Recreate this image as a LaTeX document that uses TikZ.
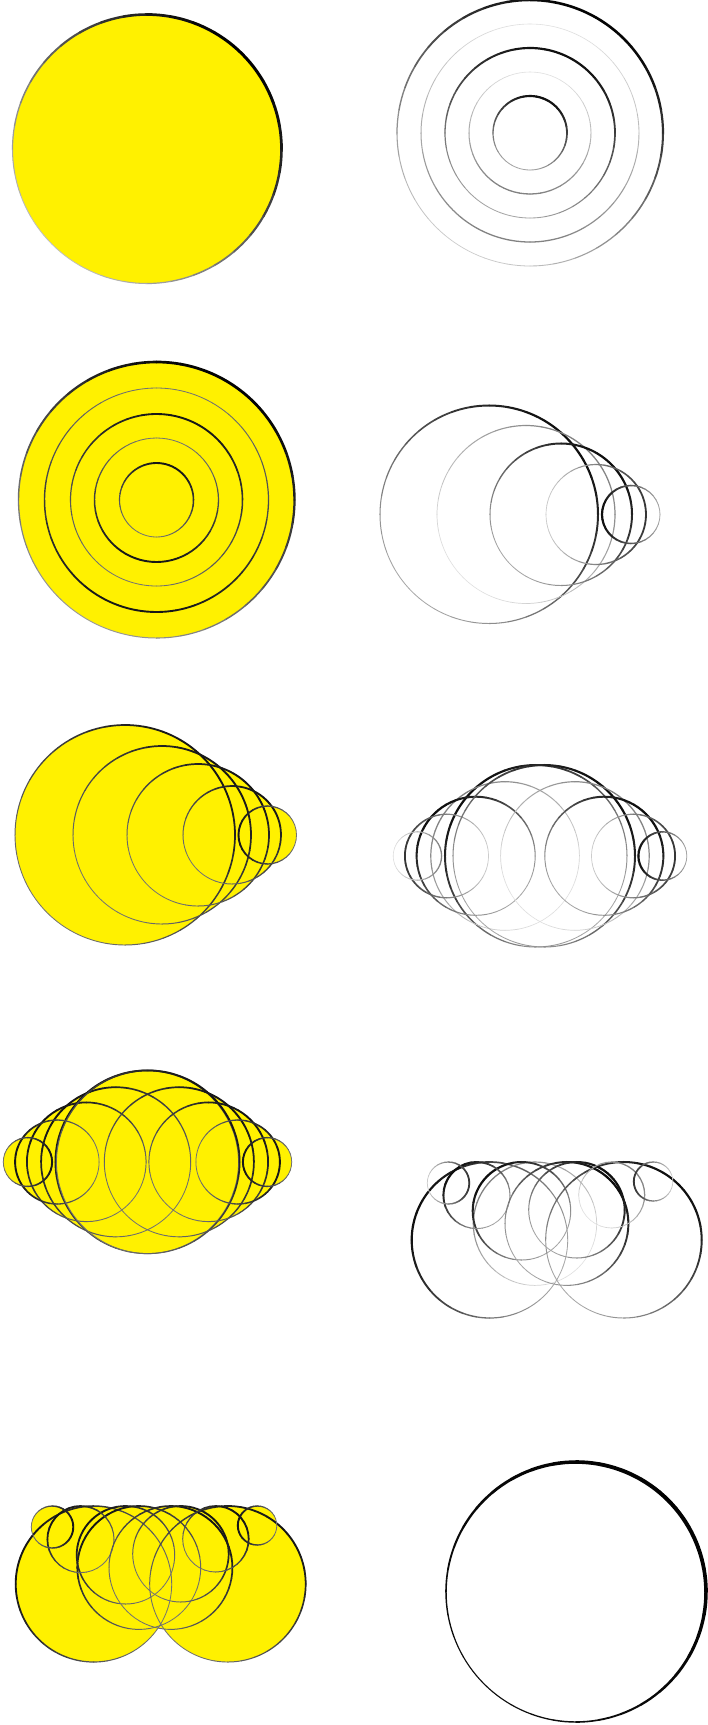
\documentclass[tikz,border=0pt]{standalone}
\usepackage{tikz}
\definecolor{yel}{RGB}{255,241,0}
% shaded ring: #1 x, #2 y, #3 r, #4 min dark, #5 max dark, #6 min width, #7 max width, #8 light direction
\newcommand\shc[8]{%
 \foreach \a in {0,10,...,350}{%
  \pgfmathsetmacro\f{0.5*(1+cos(\a+5-#8))}%
  \pgfmathtruncatemacro\d{#4+(#5-#4)*\f}%
  \pgfmathsetmacro\w{#6+(#7-#6)*\f}%
  \draw[line width=\w pt,draw=black!\d,line cap=round]
    ({#1+#3*cos(\a)},{#2+#3*sin(\a)}) arc[start angle=\a,end angle=\a+10,radius=#3];
 }}
\newcommand\dk[4][315]{\shc{#2}{#3}{#4}{35}{95}{0.8}{2.2}{#1}}
\newcommand\lt[4][315]{\shc{#2}{#3}{#4}{12}{50}{0.6}{1.3}{#1}}
\newcommand\md[4][315]{\shc{#2}{#3}{#4}{20}{80}{0.7}{1.8}{#1}}
\newcommand\yk[4][315]{\shc{#2}{#3}{#4}{55}{92}{0.8}{1.9}{#1}}
\newcommand\yf[3]{\fill[yel] (#1,#2) circle[radius=#3];}
\begin{document}
\begin{tikzpicture}[x=1pt,y=-1pt]
\useasboundingbox (0,0) rectangle (708,1725);
\fill[white] (0,0) rectangle (708,1725);
% ---- panel 1
\yf{147}{149}{134.5}
\shc{147}{149}{134.5}{25}{100}{0.8}{3.0}{315}
% ---- panel 2
\shc{530}{133}{133}{20}{100}{0.7}{2.6}{300}
\lt[100]{530}{133}{109}
\dk[290]{530}{133}{85}
\lt[100]{530}{133}{61}
\dk[290]{530}{133}{37}
% ---- panel 3
\yf{156.5}{500}{138}
\shc{156.5}{500}{138}{40}{100}{0.9}{2.8}{300}
\yk[100]{156.5}{500}{112}
\yk[290]{156.5}{500}{86}
\yk[100]{156.5}{500}{62}
\yk[290]{156.5}{500}{37}
% ---- panel 4
\dk{489}{514.5}{109}
\lt{526}{514.5}{89}
\dk{561}{514.5}{71}
\md[0]{596}{514.5}{50}
\dk[180]{631}{514.5}{29}
% ---- panel 5
\yf{125}{835}{110}\yf{162}{835}{89}\yf{198}{835}{71}\yf{232}{835}{49}\yf{267.5}{835}{29}
\yk{125}{835}{110}
\yk{162}{835}{89}
\yk{198}{835}{71}
\yk{232}{835}{49}
\yk[180]{267.5}{835}{29}
% ---- panel 6
\dk[225]{536}{856}{91}
\lt[225]{505.1}{856}{74.3}
\dk[225]{475.9}{856}{59.3}
\md[180]{446.7}{856}{41.8}
\lt[0]{417.4}{856}{24.2}
\dk{544}{856}{91}
\lt{574.9}{856}{74.3}
\dk{604.1}{856}{59.3}
\md[0]{633.3}{856}{41.8}
\dk[180]{662.6}{856}{24.2}
% ---- panel 7
\yf{147}{1162}{91.6}\yf{115.9}{1162}{74.8}\yf{86.5}{1162}{59.6}\yf{57.1}{1162}{42}\yf{27.7}{1162}{24.4}
\yf{148}{1162}{91.6}\yf{179.1}{1162}{74.8}\yf{208.5}{1162}{59.6}\yf{237.9}{1162}{42}\yf{267.3}{1162}{24.4}
\yk[225]{147}{1162}{91.6}
\yk[225]{115.9}{1162}{74.8}
\yk[225]{86.5}{1162}{59.6}
\yk[180]{57.1}{1162}{42}
\yk[0]{27.7}{1162}{24.4}
\yk{148}{1162}{91.6}
\yk{179.1}{1162}{74.8}
\yk{208.5}{1162}{59.6}
\yk[0]{237.9}{1162}{42}
\yk[180]{267.3}{1162}{24.4}
% ---- panel 8
\dk[200]{489.7}{1240}{78}
\lt[225]{535}{1223.7}{61.7}
\dk[225]{521.7}{1211}{49}
\dk[225]{476.7}{1195.3}{33.3}
\md[0]{448.3}{1183}{21}
\dk{623.7}{1240}{78}
\dk{566.7}{1223.7}{61.7}
\dk{576.7}{1210}{48}
\lt{611.7}{1195}{33}
\md[180]{653.3}{1181.5}{19.5}
% ---- panel 9
\yf{93.7}{1584}{78}\yf{139}{1567.7}{61.7}\yf{125.7}{1555}{49}\yf{80.7}{1539.3}{33.3}\yf{52.3}{1527}{21}
\yf{227.7}{1584}{78}\yf{170.7}{1567.7}{61.7}\yf{180.7}{1554}{48}\yf{215.7}{1539}{33}\yf{257.3}{1525.5}{19.5}
\yk[200]{93.7}{1584}{78}
\yk[225]{139}{1567.7}{61.7}
\yk[225]{125.7}{1555}{49}
\yk[225]{80.7}{1539.3}{33.3}
\yk[0]{52.3}{1527}{21}
\yk{227.7}{1584}{78}
\yk{170.7}{1567.7}{61.7}
\yk{180.7}{1554}{48}
\yk{215.7}{1539}{33}
\yk[180]{257.3}{1525.5}{19.5}
% ---- panel 10
\shc{576}{1592}{130}{95}{100}{1.1}{4.0}{315}
\end{tikzpicture}
\end{document}
